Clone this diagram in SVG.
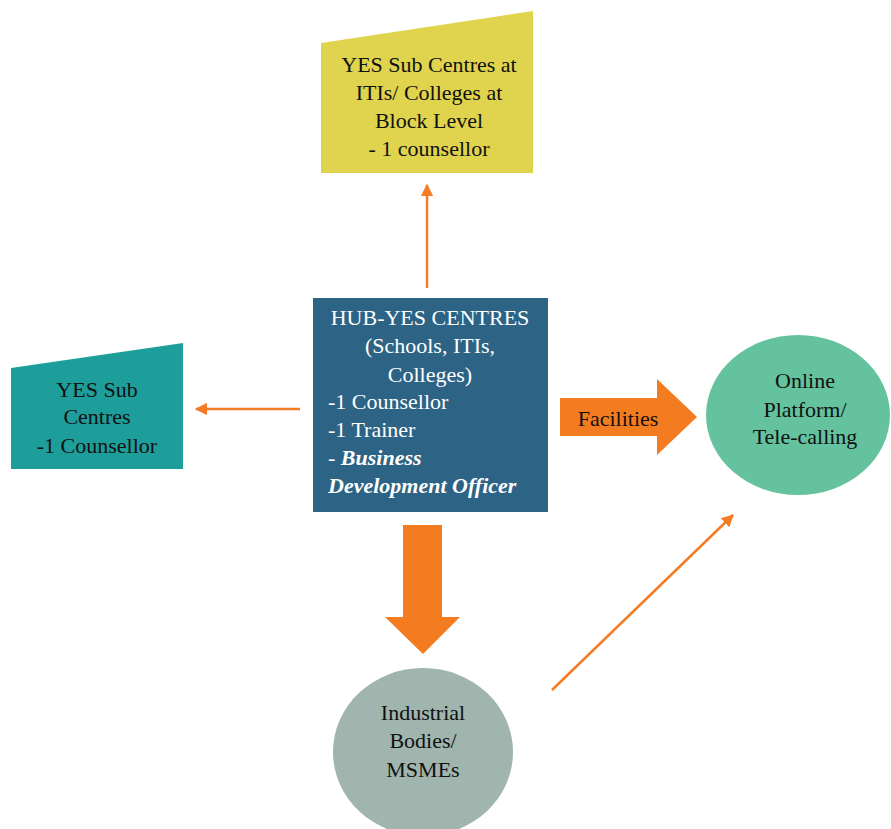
<svg xmlns="http://www.w3.org/2000/svg" width="891" height="829" viewBox="0 0 891 829">
<defs>
<marker id="ah" viewBox="0 0 10 10" refX="9" refY="5" markerWidth="5" markerHeight="5" orient="auto" markerUnits="strokeWidth">
<path d="M0,0L10,5L0,10z" fill="#F47C26"/>
</marker>
</defs>
<g id="connectors" stroke="#F47C26" stroke-width="2.5" fill="none">
<line x1="427" y1="288" x2="427" y2="185" marker-end="url(#ah)"/>
<line x1="300" y1="409" x2="196" y2="409" marker-end="url(#ah)"/>
<line x1="552" y1="690" x2="733" y2="515" marker-end="url(#ah)"/>
<path d="M403,525H442V617H460L423,654L385,617H403Z" fill="#F47C20" stroke="none"/>
</g>
<g id="facilities">
<path d="M560,398H657V379L697,417L657,455V436H560Z" fill="#F47C20"/>
<text x="618" y="426" font-family="Liberation Serif" font-size="22" fill="#111" text-anchor="middle">Facilities</text>
</g>
<g id="sub-block" font-family="Liberation Serif" font-size="22" fill="#111" text-anchor="middle">
<path d="M321,43L533,11V173H321Z" fill="#E0D44E"/>
<text x="429" y="72" font-family="Liberation Serif">YES Sub Centres at</text>
<text x="429" y="100" font-family="Liberation Serif">ITIs/ Colleges at</text>
<text x="429" y="128" font-family="Liberation Serif">Block Level</text>
<text x="429" y="156" font-family="Liberation Serif">- 1 counsellor</text>
</g>
<g id="sub-left" font-family="Liberation Serif" font-size="22" fill="#111" text-anchor="middle">
<path d="M11,368L183,343V469H11Z" fill="#1E9E9B"/>
<text x="97" y="397" font-family="Liberation Serif">YES Sub</text>
<text x="97" y="424" font-family="Liberation Serif">Centres</text>
<text x="97" y="453" font-family="Liberation Serif">-1 Counsellor</text>
</g>
<g id="hub" font-family="Liberation Serif" font-size="22" fill="#fff">
<rect x="313" y="298" width="235" height="214" fill="#2D6384"/>
<text x="430" y="325" text-anchor="middle" font-family="Liberation Serif">HUB-YES CENTRES</text>
<text x="430" y="353" text-anchor="middle" font-family="Liberation Serif">(Schools, ITIs,</text>
<text x="430" y="382" text-anchor="middle" font-family="Liberation Serif">Colleges)</text>
<text x="328" y="409" font-family="Liberation Serif">-1 Counsellor</text>
<text x="328" y="437" font-family="Liberation Serif">-1 Trainer</text>
<text x="328" y="465" font-family="Liberation Serif">- <tspan font-style="italic" font-weight="bold">Business</tspan></text>
<text x="328" y="493" font-family="Liberation Serif" font-style="italic" font-weight="bold">Development Officer</text>
</g>
<g id="online" font-family="Liberation Serif" font-size="22" fill="#111" text-anchor="middle">
<ellipse cx="798" cy="415" rx="92" ry="80" fill="#64C29E"/>
<text x="805" y="388" font-family="Liberation Serif">Online</text>
<text x="805" y="417" font-family="Liberation Serif">Platform/</text>
<text x="805" y="444" font-family="Liberation Serif">Tele-calling</text>
</g>
<g id="industrial" font-family="Liberation Serif" font-size="22" fill="#111" text-anchor="middle">
<ellipse cx="423" cy="752" rx="90" ry="84" fill="#9FB5AE"/>
<text x="423" y="720" font-family="Liberation Serif">Industrial</text>
<text x="423" y="748" font-family="Liberation Serif">Bodies/</text>
<text x="423" y="777" font-family="Liberation Serif">MSMEs</text>
</g>
</svg>
